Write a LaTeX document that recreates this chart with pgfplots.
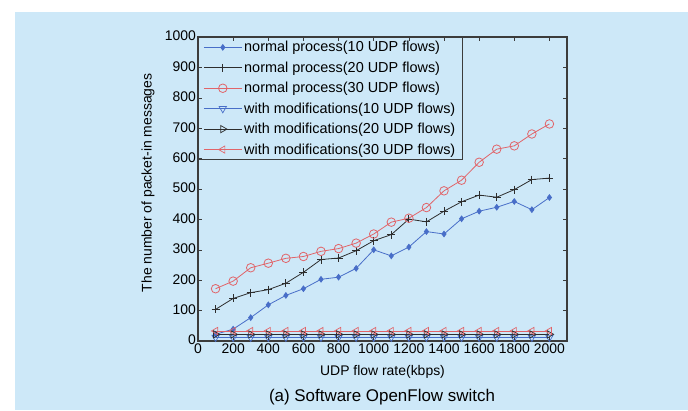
\documentclass[border=0pt]{standalone}
\usepackage{pgfplots}
\pgfplotsset{compat=1.18}
\usepackage{fontspec}
\setmainfont{Liberation Sans}
\definecolor{bgblue}{RGB}{205,232,248}
\definecolor{axgray}{RGB}{60,60,60}
\definecolor{cblue}{RGB}{72,110,200}
\definecolor{cblack}{RGB}{45,45,45}
\definecolor{cred}{RGB}{225,100,105}
\begin{document}
\begin{tikzpicture}[x=1bp,y=1bp]
\useasboundingbox (0,0) rectangle (688,-410);
\fill[white] (0,0) rectangle (688,-410);
\fill[bgblue] (15,-12) rectangle (688,-410);
\begin{axis}[
  at={(198bp,-341bp)}, anchor=south west,
  scale only axis, width=369bp, height=304bp,
  xmin=0, xmax=2100, ymin=0, ymax=1000,
  xtick={0,200,...,2000}, ytick={0,100,...,1000},
  tick align=inside, tick pos=both,
  major tick length=4bp,
  axis line style={axgray, line width=1.1pt},
  every tick/.style={axgray, line width=0.6pt},
  /pgf/number format/assume math mode=true,
  /pgf/number format/1000 sep={},
  tick label style={font=\fontsize{14}{16}\selectfont, text=black},
  xticklabel style={inner xsep=0pt, inner ysep=0pt, yshift=-3bp},
  yticklabel style={inner xsep=2bp, yshift=1bp},
  xlabel={UDP flow rate(kbps)},
  ylabel={The number of packet-in messages},
  label style={font=\fontsize{14}{16}\selectfont},
  xlabel style={at={(axis description cs:0.5,-0.102)}, anchor=center},
  ylabel style={at={(axis description cs:-0.1355,0.52)}, anchor=center},
  legend cell align=left,
  legend style={at={(0,1)}, anchor=north west, draw=axgray, line width=0.8pt, fill=none,
    font=\fontsize{14.5}{16}\selectfont, row sep=7.5pt, inner xsep=5bp, inner ysep=3.5bp,
    nodes={inner xsep=2bp, inner ysep=0.5bp}},
  legend image code/.code={\draw[mark repeat=2,mark phase=2] plot coordinates {(0bp,0bp) (19bp,0bp) (38bp,0bp)};},
]
\addplot[cblue, line width=0.8pt, mark=diamond*, mark size=2.8pt, mark options={solid}] coordinates {
(100,22)(200,39)(300,77)(400,119)(500,150)(600,172)(700,203)(800,210)(900,239)(1000,300)
(1100,280)(1200,309)(1300,360)(1400,352)(1500,402)(1600,427)(1700,440)(1800,459)(1900,432)(2000,472)};
\addlegendentry{normal process(10 UDP flows)}
\addplot[cblack, line width=0.8pt, mark=+, mark size=4pt, mark options={line width=0.8pt}] coordinates {
(100,104)(200,140)(300,159)(400,169)(500,190)(600,226)(700,268)(800,273)(900,297)(1000,330)
(1100,350)(1200,401)(1300,392)(1400,427)(1500,458)(1600,480)(1700,473)(1800,498)(1900,531)(2000,536)};
\addlegendentry{normal process(20 UDP flows)}
\addplot[cred, line width=0.8pt, mark=o, mark size=4.3pt, mark options={line width=0.8pt}] coordinates {
(100,172)(200,197)(300,241)(400,256)(500,272)(600,278)(700,295)(800,304)(900,322)(1000,352)
(1100,391)(1200,404)(1300,439)(1400,494)(1500,529)(1600,588)(1700,631)(1800,642)(1900,681)(2000,714)};
\addlegendentry{normal process(30 UDP flows)}
\addplot[cblue, line width=0.8pt, mark=triangle, mark size=4.2pt, mark options={rotate=180, line width=0.7pt}] coordinates {
(100,12)(200,12)(300,12)(400,12)(500,12)(600,12)(700,12)(800,12)(900,12)(1000,12)
(1100,12)(1200,12)(1300,12)(1400,12)(1500,12)(1600,12)(1700,12)(1800,12)(1900,12)(2000,12)};
\addlegendentry{with modifications(10 UDP flows)}
\addplot[cblack, line width=0.8pt, mark=triangle, mark size=4.2pt, mark options={rotate=-90, line width=0.7pt}] coordinates {
(100,22)(200,22)(300,22)(400,22)(500,22)(600,22)(700,22)(800,22)(900,22)(1000,22)
(1100,22)(1200,22)(1300,22)(1400,22)(1500,22)(1600,22)(1700,22)(1800,22)(1900,22)(2000,22)};
\addlegendentry{with modifications(20 UDP flows)}
\addplot[cred, line width=0.8pt, mark=triangle, mark size=4.2pt, mark options={rotate=90, line width=0.7pt}] coordinates {
(100,33)(200,33)(300,33)(400,33)(500,33)(600,33)(700,33)(800,33)(900,33)(1000,33)
(1100,33)(1200,33)(1300,33)(1400,33)(1500,33)(1600,33)(1700,33)(1800,33)(1900,33)(2000,33)};
\addlegendentry{with modifications(30 UDP flows)}
\end{axis}
\node[font=\fontsize{17}{19}\selectfont, anchor=center] at (382,-397) {(a) Software OpenFlow switch};
\end{tikzpicture}
\end{document}
